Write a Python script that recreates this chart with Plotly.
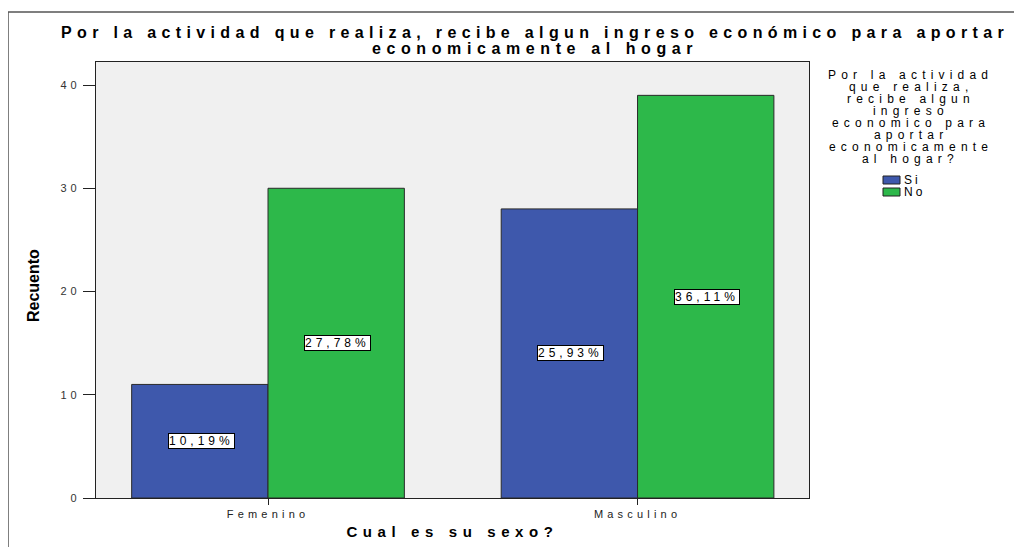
import plotly.graph_objects as go

categories = ["Femenino", "Masculino"]
series_names = ["Si", "No"]
si_counts = [11, 28]
no_counts = [30, 39]
si_pct = ["10,19%", "25,93%"]
no_pct = ["27,78%", "36,11%"]
y_ticks = [0, 10, 20, 30, 40]
title_lines = ["Por la actividad que realiza, recibe algun ingreso económico para aportar",
               "economicamente al hogar"]
legend_title_lines = ["Por la actividad", "que realiza,", "recibe algun", "ingreso",
                      "economico para", "aportar", "economicamente", "al hogar?"]

blue = "#3E58AC"
green = "#2DB84A"
F = "Liberation Sans, Arial, sans-serif"

# plot area in page pixels (page has 8px body margin)
PL, PR, PT, PB = 96, 809, 62, 498
def px(x):
    return (x - PL) / (PR - PL)
def py(y):
    return (PB - y) / (PB - PT)
def sp(text, ls):
    return f'<span style="letter-spacing:{ls}px">{text}</span>'

fig = go.Figure()
fig.add_trace(go.Bar(x=categories, y=si_counts, name=series_names[0], showlegend=False,
                     marker=dict(color=blue, line=dict(color="#2a2a2a", width=1))))
fig.add_trace(go.Bar(x=categories, y=no_counts, name=series_names[1], showlegend=False,
                     marker=dict(color=green, line=dict(color="#2a2a2a", width=1))))

annotations = []
for vals, texts, shift in ((si_counts, si_pct, -68), (no_counts, no_pct, 68)):
    for cat, v, t in zip(categories, vals, texts):
        annotations.append(dict(x=cat, y=v / 2, text=sp(t, 4), xref="x", yref="y",
                                xshift=shift + 1, showarrow=False, bgcolor="white",
                                bordercolor="black", borderwidth=1, borderpad=0,
                                font=dict(family=F, size=12, color="black")))

# chart title (two lines)
for txt, yc, ls in zip(title_lines, (32, 48), (5.35, 5.6)):
    annotations.append(dict(x=px(532 + ls / 2), y=py(yc), xref="paper", yref="paper",
                            text="<b>" + sp(txt, ls) + "</b>", showarrow=False,
                            xanchor="center", yanchor="middle",
                            font=dict(family=F, size=16, color="black")))

# legend title
leg_y = [75, 87, 99, 111, 123, 135, 147, 159]
for txt, yc in zip(legend_title_lines, leg_y):
    annotations.append(dict(x=px(908 + 2.6), y=py(yc), xref="paper", yref="paper",
                            text=sp(txt, 5.2), showarrow=False,
                            xanchor="center", yanchor="middle",
                            font=dict(family=F, size=12, color="black")))

# legend entries
shapes = []
for name, col, yc in ((series_names[0], blue, 180), (series_names[1], green, 192)):
    shapes.append(dict(type="rect", xref="paper", yref="paper",
                       x0=px(883), x1=px(900), y0=py(yc + 4), y1=py(yc - 4),
                       fillcolor=col, line=dict(color="#222222", width=1)))
    annotations.append(dict(x=px(902), y=py(yc), xref="paper", yref="paper",
                            text=sp(name, 3), showarrow=False,
                            xanchor="left", yanchor="middle",
                            font=dict(family=F, size=12, color="black")))

# y-axis title
annotations.append(dict(x=px(33), y=py(286), xref="paper", yref="paper",
                        text="<b>Recuento</b>", textangle=-90, showarrow=False,
                        xanchor="center", yanchor="middle",
                        font=dict(family=F, size=16, color="black")))

# outer frame
shapes.append(dict(type="rect", xref="paper", yref="paper",
                   x0=px(8), x1=px(1040), y0=py(560), y1=py(12),
                   line=dict(color="#555555", width=1.5), fillcolor="rgba(0,0,0,0)",
                   layer="below"))

fig.update_layout(
    width=1022, height=547,
    margin=dict(l=PL - 8, r=1022 - (PR - 8), t=PT - 8, b=547 - (PB - 8)),
    paper_bgcolor="white",
    plot_bgcolor="#F0F0F0",
    barmode="group",
    bargap=0.262,
    bargroupgap=0,
    font=dict(family=F, size=12, color="black"),
    showlegend=False,
    annotations=annotations,
    shapes=shapes,
)
fig.update_xaxes(range=[-0.4655, 1.464], showline=True, linecolor="#222222", linewidth=1.2,
                 mirror=True, ticks="outside", ticklen=6, tickcolor="#222222",
                 tickvals=categories, ticktext=[sp(c, 4.2) for c in categories],
                 tickfont=dict(family=F, size=11, color="#222222"),
                 title=dict(text="<b>" + sp("Cual es su sexo?", 5.6) + "</b>", standoff=7,
                            font=dict(family=F, size=15, color="black")),
                 showgrid=False)
fig.update_yaxes(range=[0, 42.23], tickvals=y_ticks, ticktext=[sp(str(t), 4) for t in y_ticks],
                 showline=True, linecolor="#222222",
                 linewidth=1.2, mirror=True, ticks="outside", ticklen=12, tickcolor="#222222",
                 tickfont=dict(family=F, size=11, color="#333333"),
                 showgrid=False, zeroline=False)

fig.write_html("out.html")
